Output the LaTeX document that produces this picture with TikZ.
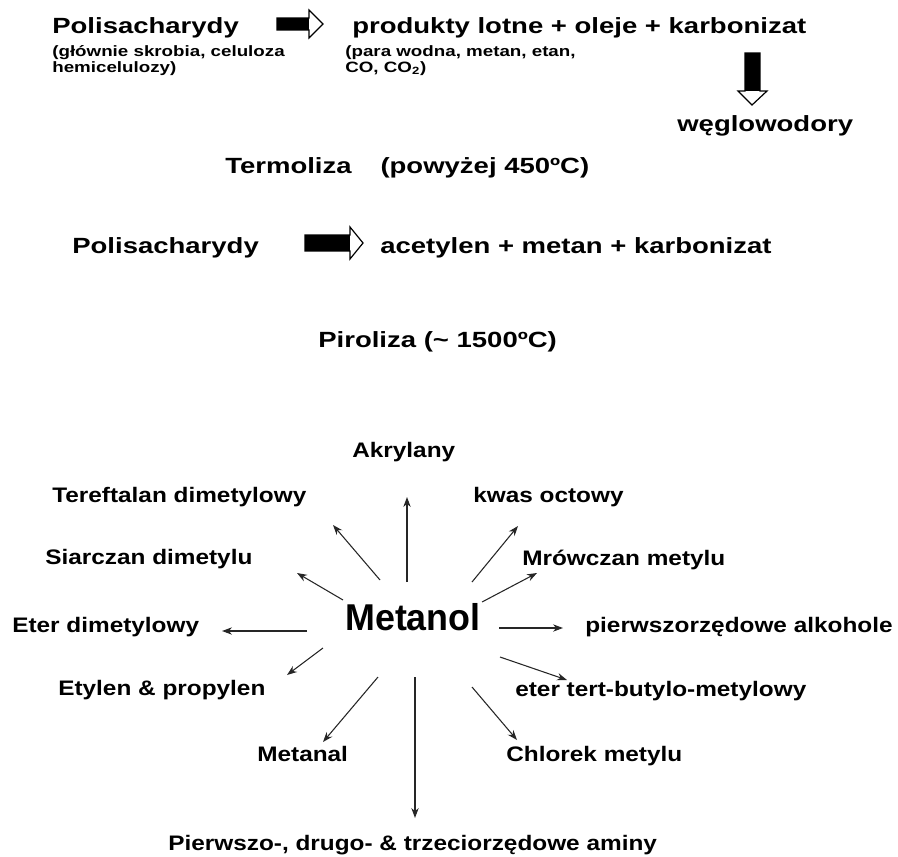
\documentclass[tikz,border=0pt]{standalone}
\usepackage{fontspec}
\setmainfont{Liberation Sans}
\usetikzlibrary{arrows.meta}

\begin{document}
\begin{tikzpicture}[x=0.75pt,y=0.75pt,yscale=-1,xscale=1,
  hd/.style={anchor=base west,inner sep=0pt,font=\fontsize{16.5}{19}\selectfont\bfseries,xscale=1.25},
  sub/.style={anchor=base west,inner sep=0pt,font=\fontsize{11.25}{11.6}\selectfont\bfseries,xscale=1.25,align=left},
  lbl/.style={anchor=base west,inner sep=0pt,font=\fontsize{15.75}{18}\selectfont\bfseries,xscale=1.16},
  arr/.style={-{Stealth[length=7.5pt,width=5.5pt]},line width=0.8pt,draw=black!85},
  blk/.style={line width=0.9pt,draw=black,fill=white}]
\useasboundingbox (0,0) rectangle (898,856);

%Termoliza
\node[hd] (pol1) at (52,34) {Polisacharydy};
\node[sub] (pol1s) at (52,72) {(głównie skrobia, celuloza\\hemicelulozy)};
\node[hd] (prod) at (352,34) {produkty lotne + oleje + karbonizat};
\node[sub] (prods) at (345,72) {(para wodna, metan, etan,\\CO, CO\textsubscript{2})};
\node[hd] (wegl) at (677,131) {węglowodory};
\node[hd] (term) at (225,173) {Termoliza\hspace{1.05em}(powyżej 450ºC)};

%block arrow right
\draw[blk] (277,18) -- (309,18) -- (309,10) -- (323,24) -- (309,38) -- (309,30) -- (277,30) -- cycle;
\fill (277,18) rectangle (309,30);
%block arrow down
\draw[blk] (745,53) -- (760,53) -- (760,91) -- (767,91) -- (752,105) -- (738,91) -- (745,91) -- cycle;
\fill (745,53) rectangle (760,91);

%Piroliza
\node[hd] (pol2) at (72,253) {Polisacharydy};
\node[hd] (acet) at (380,253) {acetylen + metan + karbonizat};
\node[hd] (pir) at (318,347) {Piroliza (\textasciitilde{} 1500ºC)};
\draw[blk] (305,235) -- (350,235) -- (350,227) -- (363,243) -- (350,259) -- (350,251) -- (305,251) -- cycle;
\fill (305,235) rectangle (350,251);

%Metanol
\node[anchor=base west,inner sep=0pt,font=\fontsize{28}{32}\selectfont\bfseries,xscale=0.96] (met) at (345,630) {Metanol};
\node[lbl] (akr) at (352,457) {Akrylany};
\node[lbl] (ter) at (52,502) {Tereftalan dimetylowy};
\node[lbl] (kwas) at (473,502) {kwas octowy};
\node[lbl] (siar) at (45,564) {Siarczan dimetylu};
\node[lbl] (mrow) at (522,565) {Mrówczan metylu};
\node[lbl] (eter) at (12,632) {Eter dimetylowy};
\node[lbl] (alk) at (585,632) {pierwszorzędowe alkohole};
\node[lbl] (ety) at (58,695) {Etylen \& propylen};
\node[lbl] (mtbe) at (515,696) {eter tert-butylo-metylowy};
\node[lbl] (mal) at (257,761) {Metanal};
\node[lbl] (chl) at (506,761) {Chlorek metylu};
\node[lbl] (amin) at (168,850) {Pierwszo-, drugo- \& trzeciorzędowe aminy};

%arrow ends
\coordinate (sAkr) at (407,582); \coordinate (eAkr) at (407,497);
\coordinate (sTer) at (380,580); \coordinate (eTer) at (333,525);
\coordinate (sKw) at (472,582); \coordinate (eKw) at (518,526);
\coordinate (sSi) at (343,600); \coordinate (eSi) at (297,573);
\coordinate (sMr) at (482,602); \coordinate (eMr) at (537,573);
\coordinate (sEt) at (307,631); \coordinate (eEt) at (222,631);
\coordinate (sAl) at (499,628); \coordinate (eAl) at (563,628);
\coordinate (sEy) at (323,648); \coordinate (eEy) at (287,675);
\coordinate (sMa) at (378,677); \coordinate (eMa) at (323,742);
\coordinate (sAm) at (415,677); \coordinate (eAm) at (415,818);
\coordinate (sTb) at (500,657); \coordinate (eTb) at (567,680);
\coordinate (sCh) at (472,687); \coordinate (eCh) at (517,740);

\foreach \a in {Akr,Ter,Kw,Si,Mr,Et,Al,Ey,Ma,Am,Tb,Ch}
  \draw[arr] (s\a) -- (e\a);

\end{tikzpicture}
\end{document}
